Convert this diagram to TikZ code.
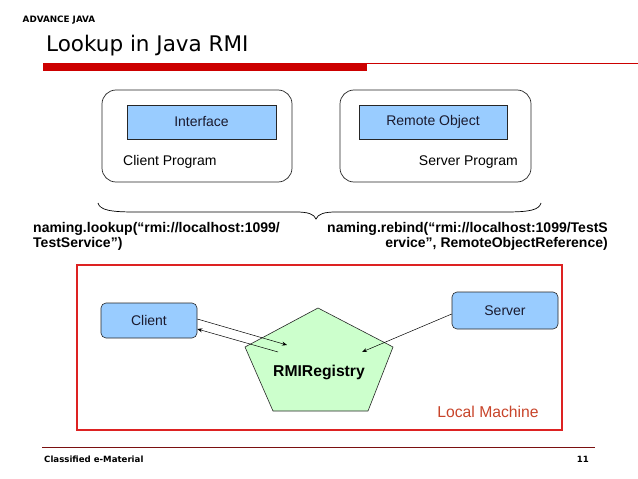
\documentclass[tikz,border=0pt]{standalone}
\usepackage{fontspec}
\setmainfont{Liberation Sans}
\newfontfamily\verd{DejaVu Sans}
\usetikzlibrary{arrows.meta}
\definecolor{boxblue}{HTML}{99CCFF}
\definecolor{regreen}{HTML}{CCFFCC}
\definecolor{barred}{HTML}{CC0000}
\definecolor{frame}{HTML}{DD2222}
\definecolor{localtxt}{HTML}{C8442A}
\definecolor{footline}{HTML}{7A1010}
\definecolor{boxtxt}{HTML}{1A1A2E}
\tikzset{
  x=1pt, y=-1pt,
  prog/.style={draw=black!85, line width=0.7pt, rounded corners=14pt},
  inner/.style={draw=black!85, fill=boxblue, line width=0.6pt, text=boxtxt, font=\fontsize{14}{16}\selectfont},
  actor/.style={draw=black!85, fill=boxblue, line width=0.6pt, rounded corners=5pt, text=boxtxt, font=\fontsize{14}{16}\selectfont},
  lbl/.style={inner sep=0pt, font=\fontsize{14}{16}\selectfont},
  code/.style={inner sep=0pt, font=\bfseries\fontsize{14}{15}\selectfont},
  conn/.style={line width=0.5pt, -{Stealth[length=5pt,width=4pt]}},
}
\begin{document}
\begin{tikzpicture}
\useasboundingbox (0,0) rectangle (638,479);
\fill[white] (0,0) rectangle (638,479);

% header
\node[anchor=base west, inner sep=0pt, font=\verd\bfseries\fontsize{8.8}{10}\selectfont] (hdr) at (22.5,23) {ADVANCE JAVA};
\node[anchor=base west, inner sep=0pt, font=\verd\fontsize{21.5}{24}\selectfont] (title) at (46,52) {Lookup in Java RMI};
\fill[barred] (43,63) rectangle (367,71);
\draw[barred, line width=0.8pt] (367,63) -- (638,63);

% top boxes
\draw[prog] (102,90) rectangle (292,182);
\node[inner, minimum width=149pt, minimum height=34pt] (iface) at (201.5,122) {Interface};
\node[lbl, anchor=west] (cprog) at (123,162) {Client Program};

\draw[prog] (340,90) rectangle (531,182);
\node[inner, minimum width=148pt, minimum height=34pt] (robj) at (433,122) {Remote Object};
\node[lbl, anchor=east] (sprog) at (518,162) {Server Program};

% brace
\draw[line width=0.7pt] (98,203) .. controls (100,210) and (110,212) .. (135,212) -- (296,212)
  .. controls (308,212) and (314,214) .. (316,219)
  .. controls (318,214) and (324,212) .. (336,212) -- (505,212)
  .. controls (530,212) and (539,210) .. (541,203);

% code texts
\node[code, anchor=north west, align=left] (lookup) at (33,222) {naming.lookup(“rmi://localhost:1099/\\TestService”)};
\node[code, anchor=north east, align=right] (rebind) at (608,222) {naming.rebind(“rmi://localhost:1099/TestS\\ervice”, RemoteObjectReference)};

% local machine frame
\draw[frame, line width=1.2pt] (77,265) rectangle (562,430);
\node[inner sep=0pt, text=localtxt, font=\fontsize{15.7}{18}\selectfont] (local) at (488,412) {Local Machine};

% registry pentagon
\draw[black!85, fill=regreen, line width=0.6pt] (318,308) -- (393,347) -- (368,411) -- (273,411) -- (245,347) -- cycle;
\node[inner sep=0pt, font=\bfseries\fontsize{15.7}{18}\selectfont] (reg) at (319,372) {RMIRegistry};
\coordinate (regin1) at (287,345);
\coordinate (regout1) at (278,352);
\coordinate (regin2) at (362,352);

% actors
\node[actor, minimum width=96pt, minimum height=35pt] (client) at (149,320.5) {Client};
\node[actor, minimum width=106pt, minimum height=37pt] (server) at (505,310.5) {Server};

% connectors
\draw[conn] (client.east |- 0,319) -- (regin1);
\draw[conn] (regout1) -- (client.east |- 0,329);
\draw[conn] (server.west |- 0,314) -- (regin2);

% footer
\draw[footline, line width=1pt] (42,447) -- (595,447);
\node[anchor=base west, inner sep=0pt, font=\verd\bfseries\fontsize{8.6}{10}\selectfont] (foot) at (44,462) {Classified e-Material};
\node[anchor=base east, inner sep=0pt, font=\verd\bfseries\fontsize{8.6}{10}\selectfont] (page) at (589,462) {11};
\end{tikzpicture}
\end{document}
